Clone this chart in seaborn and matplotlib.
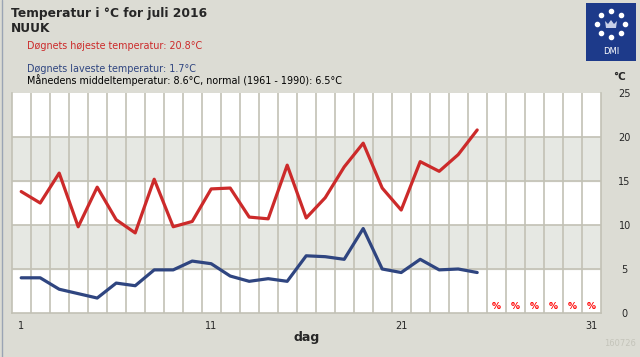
import numpy as np
import pandas as pd
import matplotlib
matplotlib.use("Agg")
import matplotlib.pyplot as plt
import matplotlib.patches as mpatches
import seaborn as sns

# daily values, juli 2016, Nuuk
days = list(range(1, 26))
t_max = [13.8, 12.5, 15.9, 9.8, 14.3, 10.6, 9.1, 15.2, 9.8, 10.4,
         14.1, 14.2, 10.9, 10.7, 16.8, 10.8, 13.1, 16.6, 19.3, 14.2,
         11.7, 17.2, 16.1, 18.0, 20.8]
t_min = [4.0, 4.0, 2.7, 2.2, 1.7, 3.4, 3.1, 4.9, 4.9, 5.9,
         5.6, 4.2, 3.6, 3.9, 3.6, 6.5, 6.4, 6.1, 9.6, 5.0,
         4.6, 6.1, 4.9, 5.0, 4.6]
missing_days = [26, 27, 28, 29, 30, 31]
y_ticks = [0, 5, 10, 15, 20, 25]
x_ticks = [1, 11, 21, 31]

bg = "#dcdcd4"
grid_col = "#c2c1b5"
band_col = "#e6e8e3"
red = "#cc2a2a"
blue = "#2f4580"

sns.set_style("white")
plt.rcParams['font.family'] = ['DejaVu Sans']

df = pd.DataFrame({"dag": days, "max": t_max, "min": t_min})

fig = plt.figure(figsize=(6.4, 3.57), dpi=100, facecolor=bg)
ax = fig.add_axes([11.7 / 640, 44 / 357, 589 / 640, 220 / 357])
ax.set_facecolor("white")

# grey bands + grid
for lo in [5, 15]:
    ax.axhspan(lo, lo + 5, color=band_col, zorder=0)
for y in [5, 10, 15, 20]:
    ax.axhline(y, color=grid_col, lw=1.2, zorder=1)
for x in np.arange(1.5, 31, 1.0):
    ax.axvline(x, color=grid_col, lw=1.2, zorder=1)

sns.lineplot(data=df, x="dag", y="max", color=red, lw=2.3, ax=ax, zorder=3)
sns.lineplot(data=df, x="dag", y="min", color=blue, lw=2.3, ax=ax, zorder=3)

for d in missing_days:
    ax.text(d, 0.25, "%", color="#ff0000", fontsize=6.5, fontweight="bold",
            ha="center", va="bottom", zorder=4)

ax.set_xlim(0.5, 31.5)
ax.set_ylim(0, 25)
ax.set_xticks(x_ticks)
ax.set_xticks(np.arange(0.5, 31.6, 1.0), minor=True)
ax.set_yticks(y_ticks)
ax.tick_params(axis="x", which="major", length=0, pad=6, labelsize=7)
ax.tick_params(axis="x", which="minor", length=4, width=1.2, color=grid_col)
ax.tick_params(axis="y", left=False, labelleft=False, right=False,
               labelright=True, pad=13.7, labelsize=7)
for lab in ax.get_yticklabels():
    lab.set_ha("center")
ax.set_xlabel("dag", fontweight="bold", fontsize=9, labelpad=0)
ax.set_ylabel("")
for s in ["left", "right", "bottom"]:
    ax.spines[s].set_color(grid_col)
    ax.spines[s].set_linewidth(1.2)
ax.spines["top"].set_visible(False)

# header texts
fig.text(11 / 640, 1 - 13 / 357, "Temperatur i °C for juli 2016", fontsize=8.8,
         fontweight="bold", va="center")
fig.text(11 / 640, 1 - 29 / 357, "NUUK", fontsize=8.8, fontweight="bold", va="center")
fig.text(27 / 640, 1 - 46 / 357, "Døgnets højeste temperatur: 20.8°C", fontsize=6.9,
         color=red, va="center")
fig.text(27 / 640, 1 - 69 / 357, "Døgnets laveste temperatur: 1.7°C", fontsize=6.9,
         color=blue, va="center")
fig.text(27 / 640, 1 - 80 / 357,
         "Månedens middeltemperatur: 8.6°C, normal (1961 - 1990): 6.5°C",
         fontsize=6.9, color="black", va="center")
fig.text(619 / 640, 1 - 77 / 357, "°C", fontsize=7.5, fontweight="bold",
         ha="center", va="center")
fig.text(636 / 640, 1 - 344 / 357, "160726", fontsize=6, color="#c4c4ba",
         ha="right", va="center")

# left border line
fig.add_artist(plt.Line2D([1.5 / 640, 1.5 / 640], [0, 1], color="#9aa4b4", lw=1))

# DMI logo
logo = fig.add_axes([586 / 640, 1 - 61 / 357, 50 / 640, 58 / 357])
logo.set_facecolor("#1d3a8a")
logo.set_xlim(0, 50)
logo.set_ylim(0, 58)
logo.set_xticks([])
logo.set_yticks([])
for s in logo.spines.values():
    s.set_visible(False)
ang = np.linspace(0, 2 * np.pi, 9)[:-1] + np.pi / 2
logo.scatter(25 + 14 * np.cos(ang), 37 + 13 * np.sin(ang), s=9, color="white")
logo.add_patch(mpatches.Polygon([[20, 33], [30, 33], [31, 40], [28, 37], [25, 41],
                                 [22, 37], [19, 40]], closed=True,
                                facecolor="#c8d0e8", edgecolor="none"))
logo.text(25, 9, "DMI", color="white", fontsize=6, ha="center", va="center")

fig.savefig("out.png", dpi=100, facecolor=bg)
